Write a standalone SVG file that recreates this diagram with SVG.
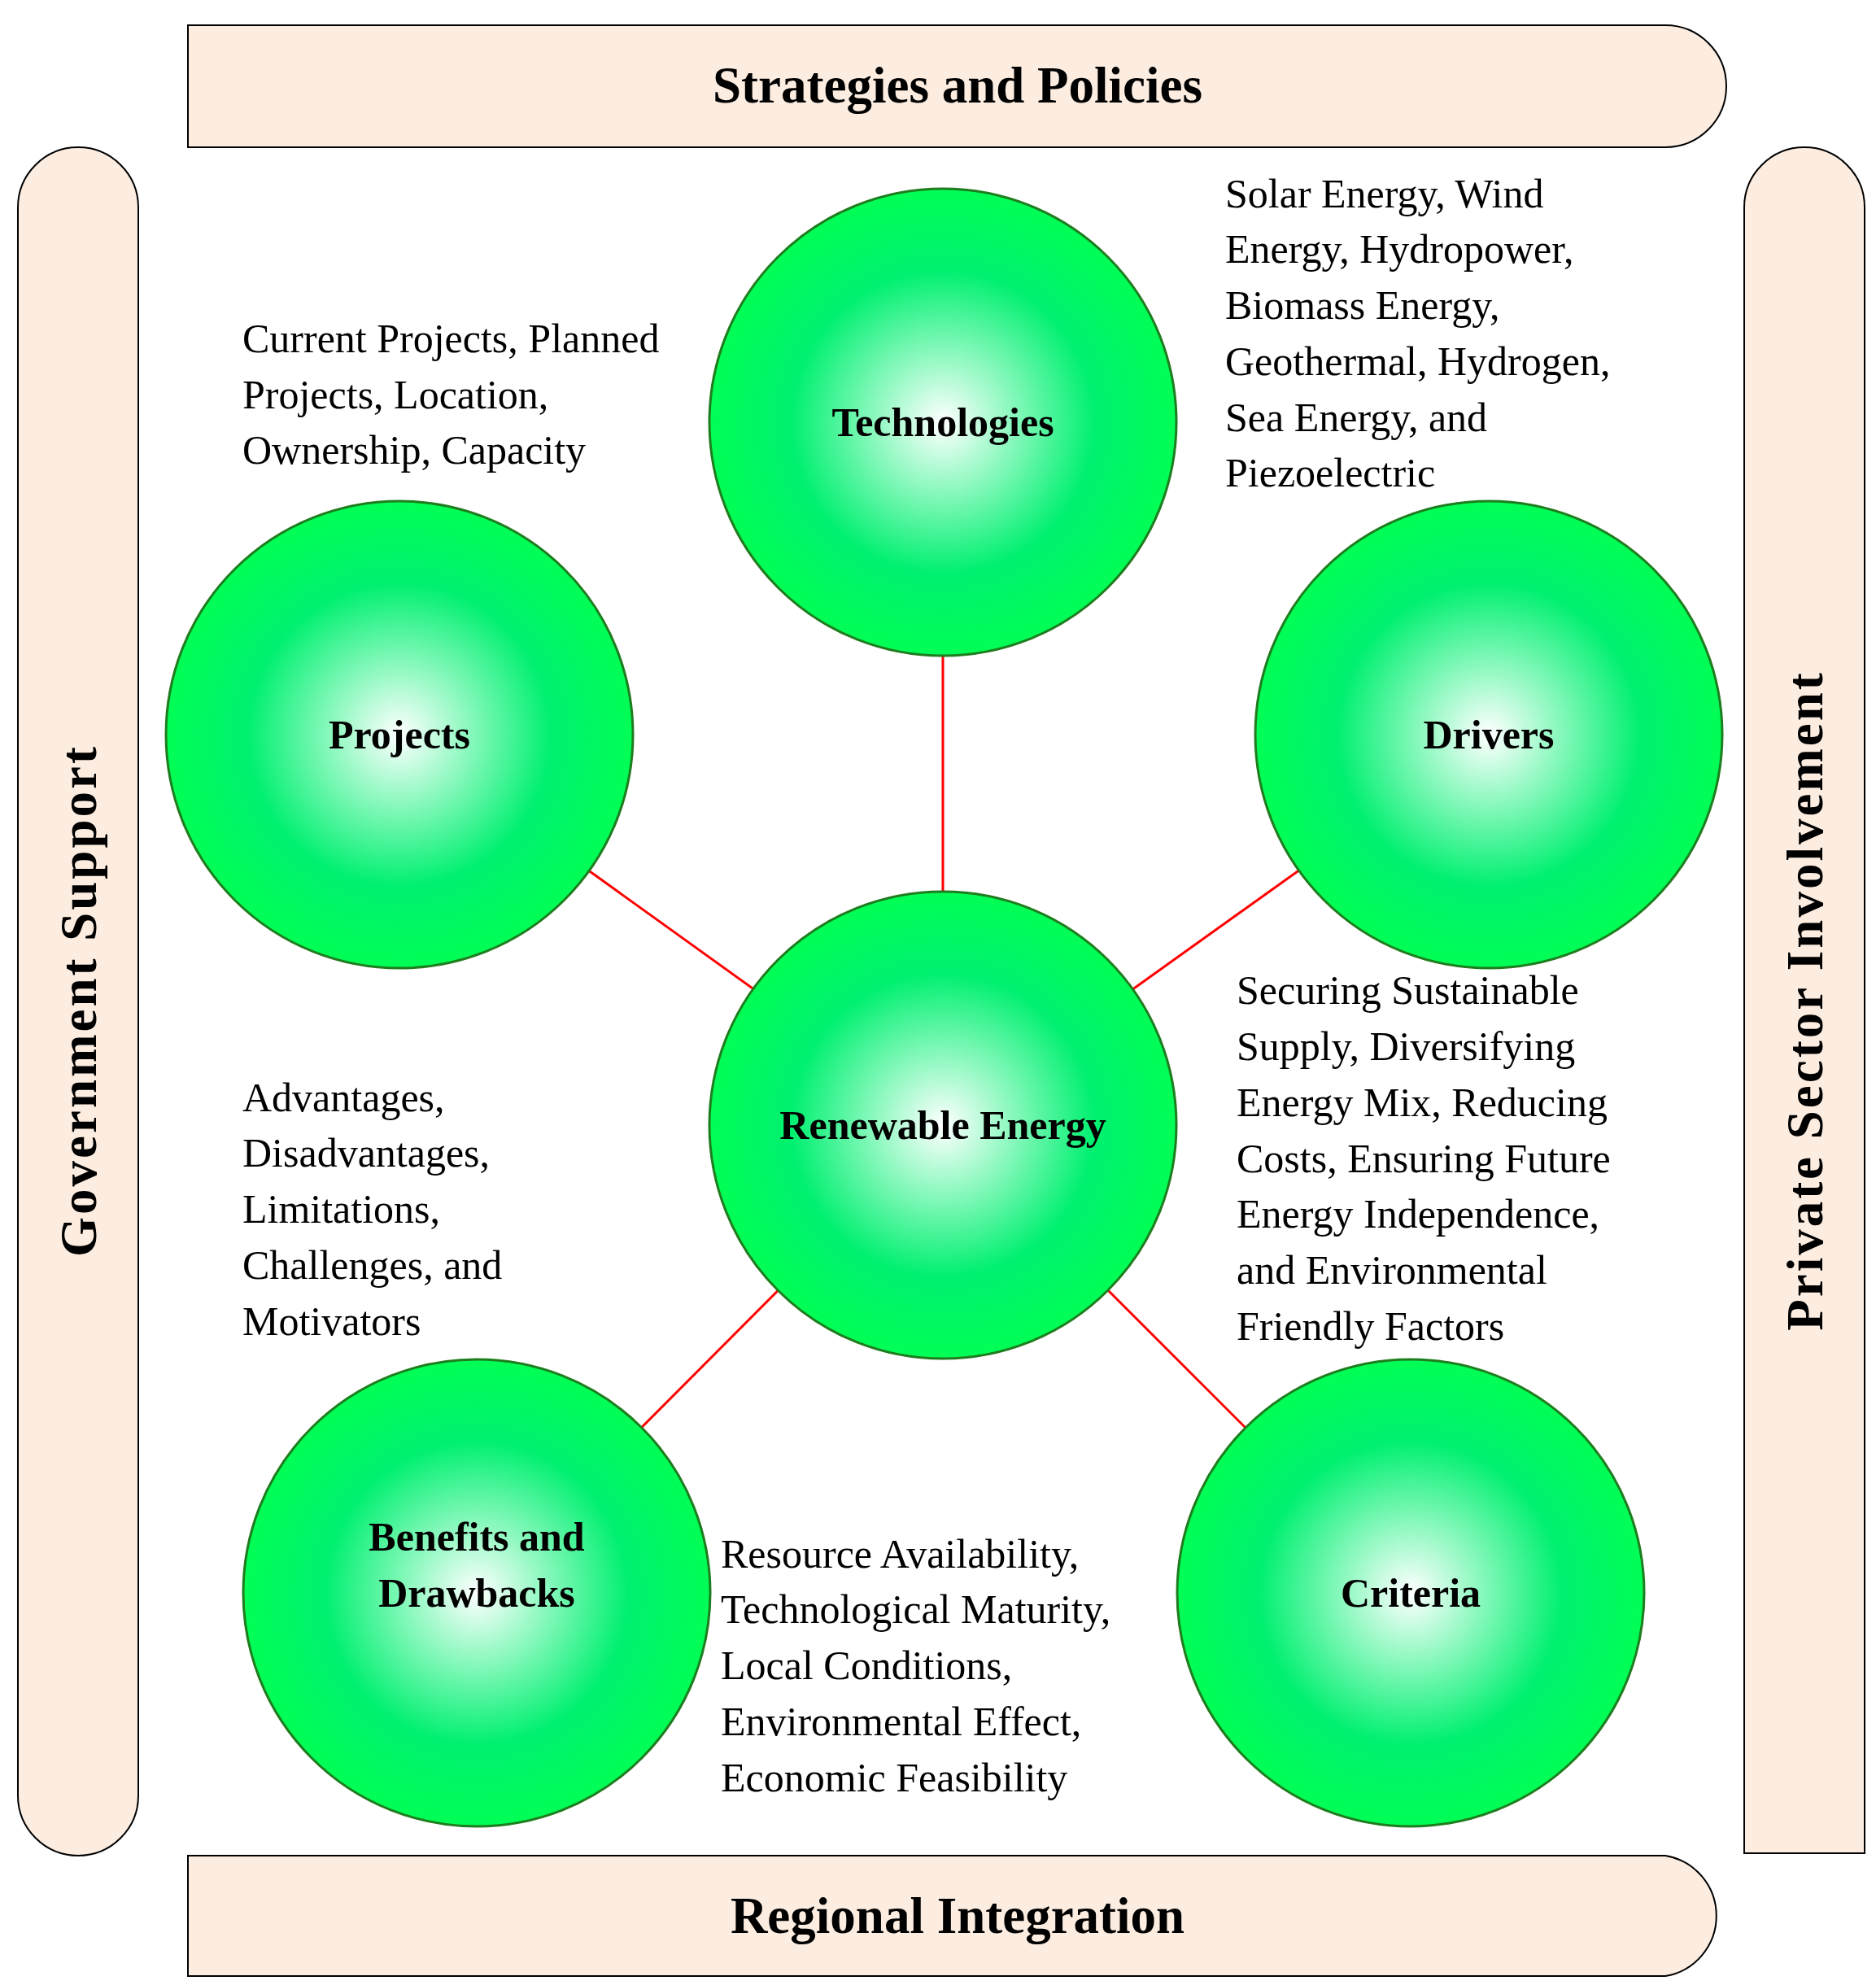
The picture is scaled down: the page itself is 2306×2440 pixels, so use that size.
<svg xmlns="http://www.w3.org/2000/svg" width="2306" height="2440" viewBox="0 0 2306 2440">
<defs>
<radialGradient id="g" cx="50%" cy="50%" r="50%">
<stop offset="0" stop-color="#ffffff"/>
<stop offset="0.65" stop-color="#00f070"/>
<stop offset="1" stop-color="#00ff55"/>
</radialGradient>
</defs>
<style>
.bar{fill:#fdede1;stroke:#000;stroke-width:2}
.c{fill:url(#g);stroke:#1e7d1e;stroke-width:3}
.l{stroke:#ff0000;stroke-width:3}
.t{font-family:"Liberation Serif",serif;font-size:50px;fill:#000}
.b{font-family:"Liberation Serif",serif;font-size:50px;font-weight:bold;text-anchor:middle;fill:#000}
.h{font-family:"Liberation Serif",serif;font-size:63px;font-weight:bold;text-anchor:middle;fill:#000}
</style>
<g id="frame">
<path class="bar" d="M231,31 H2047 A75,75 0 0 1 2047,181 H231 Z"/>
<path class="bar" d="M231,2281 H2047 A75,75 0 0 1 2047,2429 H231 Z"/>
<path class="bar" d="M22,255 A74,74 0 0 1 170,255 V2207 A74,74 0 0 1 22,2207 Z"/>
<path class="bar" d="M2144,255 A74,74 0 0 1 2292,255 V2278 H2144 Z"/>
<text class="h" x="1177" y="126">Strategies and Policies</text>
<text class="h" x="1177" y="2376">Regional Integration</text>
<text class="h" transform="translate(118,1230) rotate(-90)" letter-spacing="3">Government  Support</text>
<text class="h" transform="translate(2240,1230) rotate(-90)" letter-spacing="3">Private Sector Involvement</text>
</g>
<g id="connectors">
<line class="l" x1="1159" y1="1383" x2="1159" y2="519"/>
<line class="l" x1="1159" y1="1383" x2="491" y2="903"/>
<line class="l" x1="1159" y1="1383" x2="1830" y2="903"/>
<line class="l" x1="1159" y1="1383" x2="586" y2="1958"/>
<line class="l" x1="1159" y1="1383" x2="1734" y2="1958"/>
</g>
<g id="technologies"><circle class="c" cx="1159" cy="519" r="287"/><text class="b" x="1159" y="536">Technologies</text></g>
<g id="projects"><circle class="c" cx="491" cy="903" r="287"/><text class="b" x="491" y="920">Projects</text></g>
<g id="drivers"><circle class="c" cx="1830" cy="903" r="287"/><text class="b" x="1830" y="920">Drivers</text></g>
<g id="renewable"><circle class="c" cx="1159" cy="1383" r="287"/><text class="b" x="1159" y="1400">Renewable Energy</text></g>
<g id="benefits"><circle class="c" cx="586" cy="1958" r="287"/><text class="b" x="586" y="1906">Benefits and</text><text class="b" x="586" y="1975">Drawbacks</text></g>
<g id="criteria"><circle class="c" cx="1734" cy="1958" r="287"/><text class="b" x="1734" y="1975">Criteria</text></g>
<g id="texts">
<text class="t"><tspan x="298" y="433">Current Projects, Planned</tspan><tspan x="298" y="502">Projects, Location,</tspan><tspan x="298" y="570">Ownership, Capacity</tspan></text>
<text class="t"><tspan x="1506" y="255">Solar Energy, Wind</tspan><tspan x="1506" y="323">Energy, Hydropower,</tspan><tspan x="1506" y="392">Biomass Energy,</tspan><tspan x="1506" y="461">Geothermal, Hydrogen,</tspan><tspan x="1506" y="530">Sea Energy, and</tspan><tspan x="1506" y="598">Piezoelectric</tspan></text>
<text class="t"><tspan x="1520" y="1234">Securing Sustainable</tspan><tspan x="1520" y="1303">Supply, Diversifying</tspan><tspan x="1520" y="1372">Energy Mix, Reducing</tspan><tspan x="1520" y="1441">Costs, Ensuring Future</tspan><tspan x="1520" y="1509">Energy Independence,</tspan><tspan x="1520" y="1578">and Environmental</tspan><tspan x="1520" y="1647">Friendly Factors</tspan></text>
<text class="t"><tspan x="298" y="1366">Advantages,</tspan><tspan x="298" y="1434">Disadvantages,</tspan><tspan x="298" y="1503">Limitations,</tspan><tspan x="298" y="1572">Challenges, and</tspan><tspan x="298" y="1641">Motivators</tspan></text>
<text class="t"><tspan x="886" y="1927">Resource Availability,</tspan><tspan x="886" y="1995">Technological Maturity,</tspan><tspan x="886" y="2064">Local Conditions,</tspan><tspan x="886" y="2133">Environmental Effect,</tspan><tspan x="886" y="2202">Economic Feasibility</tspan></text>
</g>
</svg>
